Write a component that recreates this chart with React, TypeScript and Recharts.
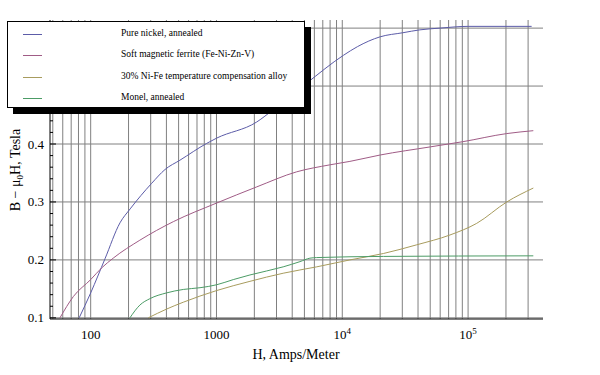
import { CartesianGrid, Legend, Line, LineChart, XAxis, YAxis } from 'recharts'

// H in A/m, B - mu0 H in tesla
const nickelH = [81, 100, 130, 171, 206, 305, 390, 512, 835, 1000, 2090, 2820, 5210, 10200, 13200, 20000, 30300, 41400, 59800, 100000, 320000]
const nickelB = [0.1, 0.143, 0.202, 0.264, 0.288, 0.332, 0.356, 0.372, 0.401, 0.41, 0.438, 0.459, 0.505, 0.553, 0.568, 0.585, 0.592, 0.597, 0.6, 0.603, 0.603]

const ferriteH = [57, 73, 100, 122, 151, 246, 454, 1000, 2090, 4340, 7950, 11500, 20000, 50000, 91000, 203000, 330000]
const ferriteB = [0.1, 0.137, 0.166, 0.186, 0.203, 0.234, 0.266, 0.298, 0.326, 0.352, 0.364, 0.37, 0.381, 0.395, 0.404, 0.418, 0.423]

const alloyH = [287, 400, 545, 1000, 1845, 3390, 6260, 11500, 21200, 39000, 71800, 117000, 203000, 330000]
const alloyB = [0.1, 0.115, 0.127, 0.147, 0.163, 0.177, 0.188, 0.2, 0.211, 0.226, 0.243, 0.263, 0.3, 0.324]

const monelH = [205, 246, 295, 400, 545, 740, 1000, 1360, 1845, 3390, 4610, 5530, 6260, 21200, 330000]
const monelB = [0.1, 0.122, 0.133, 0.143, 0.149, 0.152, 0.157, 0.166, 0.174, 0.188, 0.197, 0.203, 0.204, 0.206, 0.207]

const gridX = [
  50, 60, 70, 80, 90, 100, 200, 300, 400, 500, 600, 700, 800, 900, 1000, 2000, 3000, 4000, 5000, 6000, 7000, 8000,
  9000, 10000, 20000, 30000, 40000, 50000, 60000, 70000, 80000, 90000, 100000, 200000, 300000,
]
const gridY = [0.1, 0.2, 0.3, 0.4, 0.5, 0.6]
const minorY = [
  0.1, 0.12, 0.14, 0.16, 0.18, 0.2, 0.22, 0.24, 0.26, 0.28, 0.3, 0.32, 0.34, 0.36, 0.38, 0.4, 0.42, 0.44, 0.46, 0.48,
  0.5, 0.52, 0.54, 0.56, 0.58, 0.6,
]

const toPoints = (h: number[], b: number[]) => h.map((x, i) => ({ h: x, b: b[i] }))

const series = [
  { name: 'Pure nickel, annealed', color: '#5c5ca8', data: toPoints(nickelH, nickelB) },
  { name: 'Soft magnetic ferrite (Fe-Ni-Zn-V)', color: '#a05c86', data: toPoints(ferriteH, ferriteB) },
  { name: '30% Ni-Fe temperature compensation alloy', color: '#a89c5e', data: toPoints(alloyH, alloyB) },
  { name: 'Monel, annealed', color: '#4c9c66', data: toPoints(monelH, monelB) },
]

const PLOT_LEFT = 50
const PLOT_RIGHT = 543
const SERIF = '"Liberation Serif", "DejaVu Serif", serif'

const XTick = (props: any) => {
  const { x, y, payload } = props
  const v = payload.value
  let label: any = null
  if (v === 100) label = '100'
  else if (v === 1000) label = '1000'
  else if (v === 10000 || v === 100000)
    label = (
      <>
        10
        <tspan dy={-5} fontSize={9}>
          {v === 10000 ? '4' : '5'}
        </tspan>
      </>
    )
  if (!label) return null
  return (
    <text x={x} y={y + 12} textAnchor="middle" fontFamily={SERIF} fontSize={13} fill="#000">
      {label}
    </text>
  )
}

const isMajor = (v: number) => Math.abs(v * 10 - Math.round(v * 10)) < 1e-6

const LeftTick = (props: any) => {
  const { x, y, payload } = props
  const v = payload.value
  const major = isMajor(v)
  return (
    <g>
      <line x1={PLOT_LEFT} x2={PLOT_LEFT + (major ? 6 : 3)} y1={y} y2={y} stroke="#000" />
      {major && (
        <text x={x} y={y + 4.5} textAnchor="end" fontFamily={SERIF} fontSize={13} fill="#000">
          {v.toFixed(1)}
        </text>
      )}
    </g>
  )
}

const RightTick = (props: any) => {
  const { y, payload } = props
  const major = isMajor(payload.value)
  return <line x1={PLOT_RIGHT} x2={PLOT_RIGHT - (major ? 6 : 3)} y1={y} y2={y} stroke="#000" />
}

const YLabel = () => (
  <text transform="translate(20, 170) rotate(-90)" textAnchor="middle" fontFamily={SERIF} fontSize={14} fill="#000">
    B − μ<tspan dy={3} fontSize={9}>0</tspan>
    <tspan dy={-3}>H, Tesla</tspan>
  </text>
)

const XLabel = () => (
  <text x={296} y={359} textAnchor="middle" fontFamily={SERIF} fontSize={14} fill="#000">
    H, Amps/Meter
  </text>
)

const renderLegend = () => (
  <div
    style={{
      position: 'relative',
      width: 296,
      height: 85,
      border: '1px solid #000',
      background: '#fff',
      boxShadow: '6px 6px 0 #000',
      fontFamily: SERIF,
      fontSize: 9.5,
      color: '#000',
    }}
  >
    {series.map((s, i) => (
      <div key={s.name} style={{ position: 'absolute', left: 0, top: 12 + i * 21.3, width: 296, height: 0 }}>
        <div style={{ position: 'absolute', left: 15, top: 0, width: 19, height: 1, background: s.color }} />
        <div style={{ position: 'absolute', left: 113, top: -7, whiteSpace: 'nowrap', lineHeight: '13px' }}>
          {s.name}
        </div>
      </div>
    ))}
  </div>
)

export default function App() {
  return (
    <div style={{ position: 'absolute', left: 0, top: 0, width: 600, height: 375, background: '#fff' }}>
      <LineChart width={600} height={375} margin={{ top: 20, right: 57, bottom: 0, left: 0 }}>
        <CartesianGrid
          verticalValues={gridX}
          horizontalValues={gridY}
          stroke="#808080"
          strokeWidth={1}
        />
        <XAxis
          dataKey="h"
          type="number"
          scale="log"
          domain={[47.5, 394000]}
          allowDataOverflow
          ticks={gridX}
          interval={0}
          tick={<XTick />}
          tickLine={false}
          tickSize={0}
          tickMargin={8}
          height={56}
          axisLine={{ stroke: '#000' }}
          label={<XLabel />}
        />
        <XAxis
          xAxisId="top"
          orientation="top"
          dataKey="h"
          type="number"
          scale="log"
          domain={[47.5, 394000]}
          allowDataOverflow
          height={0}
          tick={false}
          tickLine={false}
          axisLine={{ stroke: '#000' }}
        />
        <YAxis
          type="number"
          domain={[0.098, 0.614]}
          allowDataOverflow
          ticks={minorY}
          interval={0}
          width={50}
          tick={<LeftTick />}
          tickLine={false}
          tickSize={0}
          tickMargin={6}
          axisLine={{ stroke: '#000' }}
          label={<YLabel />}
        />
        <YAxis
          yAxisId="r"
          orientation="right"
          type="number"
          domain={[0.098, 0.614]}
          allowDataOverflow
          ticks={minorY}
          interval={0}
          width={0}
          tick={<RightTick />}
          tickLine={false}
          tickSize={0}
          axisLine={{ stroke: '#000' }}
        />
        {series.map((s) => (
          <Line
            key={s.name}
            data={s.data}
            dataKey="b"
            name={s.name}
            type="monotone"
            stroke={s.color}
            strokeWidth={1}
            dot={false}
            activeDot={false}
            isAnimationActive={false}
          />
        ))}
        <Legend
          layout="vertical"
          align="center"
          verticalAlign="middle"
          wrapperStyle={{ left: 7, top: 21, width: 298, height: 87 }}
          content={renderLegend}
        />
      </LineChart>
    </div>
  )
}
